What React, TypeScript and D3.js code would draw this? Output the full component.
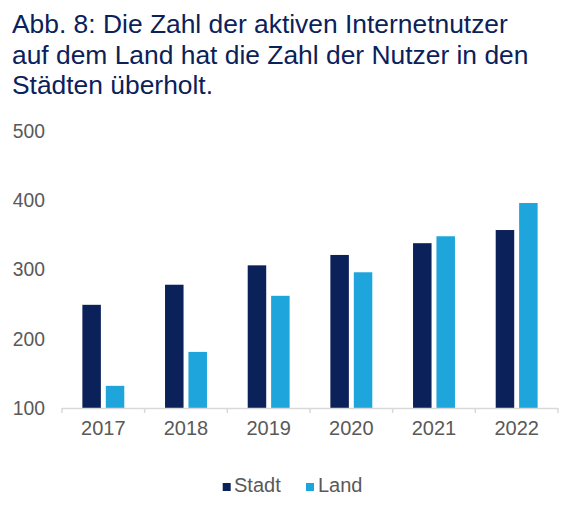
import React from "react";
import * as d3 from "d3";

const titleLines = [
  "Abb. 8: Die Zahl der aktiven Internetnutzer",
  "auf dem Land hat die Zahl der Nutzer in den",
  "Städten überholt.",
];
const years = ["2017", "2018", "2019", "2020", "2021", "2022"];
const seriesNames = ["Stadt", "Land"];
const stadtValues = [249, 278, 306, 321, 338, 357];
const landValues = [132, 181, 262, 296, 348, 396];
const yTicks = [100, 200, 300, 400, 500];
const colors = ["#0b2159", "#1ea6dc"];

const W = 575;
const H = 508;
const FONT = "'Liberation Sans', Arial, sans-serif";

export default function App() {
  const x0 = d3.scaleBand<string>().domain(years).range([62, 558]).padding(0);
  const x1 = d3
    .scaleBand<string>()
    .domain(seriesNames)
    .range([0, x0.bandwidth()])
    .paddingInner(0.21)
    .paddingOuter(0.87);
  const y = d3.scaleLinear().domain([100, 500]).range([408, 131]);
  const values = [stadtValues, landValues];
  const boundaries = [...years.map((yr) => x0(yr) as number), x0.range()[1]];

  return (
    <svg
      width={W}
      height={H}
      style={{ position: "absolute", left: 0, top: 0, background: "#fff" }}
      fontFamily={FONT}
    >
      {titleLines.map((t, i) => (
        <text key={i} x={12} y={33 + i * 30.7} fontSize={26.4} fill="#0b2159">
          {t}
        </text>
      ))}
      {yTicks.map((t) => (
        <text
          key={t}
          x={45}
          y={y(t)}
          dy="0.35em"
          textAnchor="end"
          fontSize={19.3}
          fill="#595959"
        >
          {t}
        </text>
      ))}
      {years.map((yr, i) =>
        seriesNames.map((s, j) => (
          <rect
            key={yr + s}
            x={(x0(yr) as number) + (x1(s) as number)}
            y={y(values[j][i])}
            width={x1.bandwidth()}
            height={y(100) - y(values[j][i])}
            fill={colors[j]}
          />
        ))
      )}
      <line
        x1={x0.range()[0]}
        x2={x0.range()[1]}
        y1={y(100) + 0.5}
        y2={y(100) + 0.5}
        stroke="#d9d9d9"
        strokeWidth={1.5}
      />
      {boundaries.map((b, i) => (
        <line
          key={i}
          x1={b}
          x2={b}
          y1={y(100)}
          y2={y(100) + 5}
          stroke="#d9d9d9"
          strokeWidth={1.5}
        />
      ))}
      {years.map((yr) => (
        <text
          key={yr}
          x={(x0(yr) as number) + x0.bandwidth() / 2}
          y={435}
          textAnchor="middle"
          fontSize={20}
          fill="#595959"
        >
          {yr}
        </text>
      ))}
      <g>
        <rect x={222.7} y={483} width={8} height={8} fill={colors[0]} />
        <text x={234} y={491.5} fontSize={20} fill="#595959">
          {seriesNames[0]}
        </text>
        <rect x={306} y={483} width={8} height={8} fill={colors[1]} />
        <text x={318} y={491.5} fontSize={20} fill="#595959">
          {seriesNames[1]}
        </text>
      </g>
    </svg>
  );
}
